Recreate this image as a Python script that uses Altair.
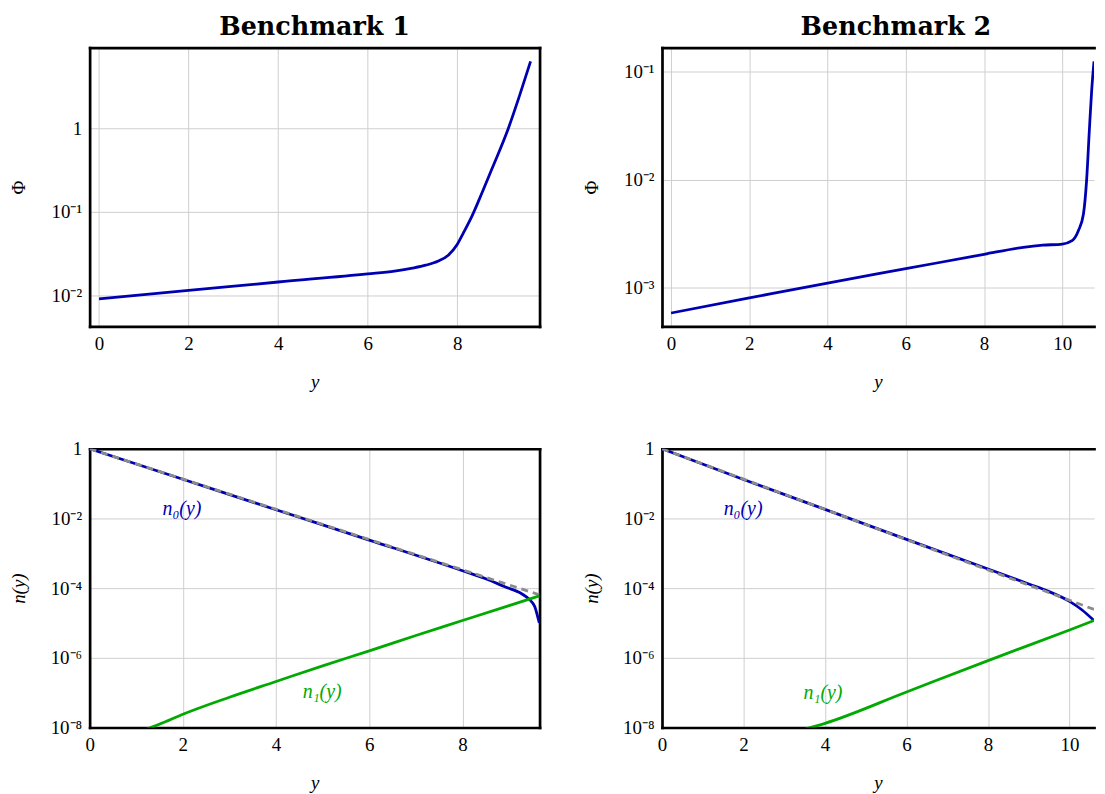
import altair as alt
import pandas as pd

# ---------------- data (log10 of the plotted quantity) ----------------
# Benchmark 1, upper panel: Phi(y)
phi1_y = [0, 2, 4, 6, 6.6, 7.0, 7.3, 7.58, 7.8, 8.0, 8.15, 8.33, 8.5, 8.77, 9.14, 9.4, 9.64]
phi1_log = [-2.044, -1.944, -1.842, -1.744, -1.71, -1.675, -1.64, -1.59, -1.52, -1.39,
            -1.24, -1.05, -0.84, -0.49, 0.0, 0.41, 0.81]
# Benchmark 2, upper panel: Phi(y)
phi2_y = [0, 2, 4, 6, 8, 9, 9.5, 10, 10.25, 10.41, 10.54, 10.62, 10.69, 10.75, 10.81]
phi2_log = [-3.231, -3.092, -2.954, -2.822, -2.689, -2.625, -2.605, -2.594, -2.563,
            -2.471, -2.317, -2.009, -1.548, -1.178, -0.908]
# Benchmark 1, lower panel: n0, n1 and the dashed reference
n0_1_y = [0, 2, 4, 6, 8, 8.5, 8.91, 9.27, 9.44, 9.55, 9.61, 9.65]
n0_1_log = [0, -0.875, -1.75, -2.62, -3.5, -3.73, -3.96, -4.16, -4.33, -4.53, -4.8, -5.0]
ref_1_y = [0, 9.65]
ref_1_log = [0, -4.19]
n1_1_y = [1.2, 1.6, 2, 3, 4, 5, 6, 7, 8, 9, 9.65]
n1_1_log = [-8.06, -7.85, -7.62, -7.13, -6.68, -6.23, -5.8, -5.36, -4.93, -4.5, -4.22]
# Benchmark 2, lower panel
n0_2_y = [0, 2, 4, 6, 8, 9, 9.5, 10, 10.3, 10.6]
n0_2_log = [0, -0.88, -1.74, -2.6, -3.45, -3.88, -4.1, -4.38, -4.62, -4.93]
ref_2_y = [0, 10.6]
ref_2_log = [0, -4.61]
n1_2_y = [3.5, 4, 6, 8, 10, 10.6]
n1_2_log = [-8.05, -7.88, -6.98, -6.08, -5.2, -4.93]

# labels inside the lower panels
lab_text = ["n\u2080(y)", "n\u2081(y)"]
lab1_x = [1.98, 4.99]
lab1_log = [-1.74, -6.99]
lab2_x = [1.99, 3.95]
lab2_log = [-1.74, -7.0]

titles = ["Benchmark 1", "Benchmark 2"]

# ---------------- styling ----------------
SERIF = "Liberation Serif"
BLUE = "#0000b3"
GREEN = "#00aa00"
GRAY = "#8c8c8c"
FW = 2.7
GRID = "#cfcfcf"
SUP = "['\u2070','\u00b9','\u00b2','\u00b3','\u2074','\u2075','\u2076','\u2077','\u2078','\u2079']"
YLAB = f"datum.value > 0.5 ? '1' : '10\u207b' + {SUP}[round(-log(datum.value)/LN10)]"


def df(xs, logs):
    return pd.DataFrame({"x": xs, "v": [10 ** e for e in logs]})


def labdf(xs, logs, texts):
    return pd.DataFrame({"x": xs, "v": [10 ** e for e in logs], "t": texts})


def panel(xdom, ylogdom, xvals, yvals, ytitle, yitalic, series, labels, width, title, right_frame,
          title_dx=0):
    height = 280
    xs = alt.Scale(domain=xdom, nice=False, zero=False)
    ys = alt.Scale(type="log", domain=[10 ** ylogdom[0], 10 ** ylogdom[1]], nice=False)
    xax = alt.Axis(values=xvals, format="d", title="y", grid=True, gridColor=GRID, gridWidth=1,
                   ticks=False, domain=True, domainColor="black", domainWidth=FW, domainCap="square",
                   labelFont=SERIF, labelFontSize=19, labelColor="black", labelPadding=8,
                   labelFlush=False,
                   titleFont=SERIF, titleFontSize=19, titleFontStyle="italic",
                   titleFontWeight="normal", titleColor="black", titlePadding=19)
    yax = alt.Axis(values=yvals, labelExpr=YLAB, title=ytitle, grid=True, gridColor=GRID, gridWidth=1,
                   ticks=False, domain=True, domainColor="black", domainWidth=FW, domainCap="square",
                   labelFont=SERIF, labelFontSize=19, labelColor="black", labelPadding=8,
                   labelFlush=False, minExtent=43, maxExtent=43,
                   titleFont=SERIF, titleFontSize=19, titleFontWeight="normal",
                   titleFontStyle="italic" if yitalic else "normal",
                   titleColor="black", titlePadding=18)
    topax = alt.Axis(orient="top", labels=False, ticks=False, grid=False, domain=True,
                     domainColor="black", domainWidth=FW, domainCap="square", title="")
    rightax = alt.Axis(orient="right", labels=False, ticks=False, grid=False, domain=True,
                       domainColor="black", domainWidth=FW, domainCap="square", title="")

    layers = []
    first = True
    for (d, color, dash) in series:
        kw = dict(color=color, strokeWidth=2.8, clip=True, interpolate="monotone")
        if dash:
            kw["strokeDash"] = [7, 5]
        if first:
            enc = dict(x=alt.X("x:Q", scale=xs, axis=xax), y=alt.Y("v:Q", scale=ys, axis=yax))
            first = False
        else:
            enc = dict(x=alt.X("x:Q", scale=xs, axis=None), y=alt.Y("v:Q", scale=ys, axis=None))
        layers.append(alt.Chart(d).mark_line(**kw).encode(**enc))

    for (d, color) in labels:
        layers.append(
            alt.Chart(d).mark_text(font=SERIF, fontSize=20, fontStyle="italic", color=color,
                                   align="center", baseline="middle")
            .encode(x=alt.X("x:Q", scale=xs, axis=None), y=alt.Y("v:Q", scale=ys, axis=None),
                    text="t:N")
        )

    frame_df = pd.DataFrame({"x": xdom, "v": [10 ** ylogdom[0], 10 ** ylogdom[1]]})
    frame = alt.Chart(frame_df).mark_point(opacity=0).encode(
        x=alt.X("x:Q", scale=xs, axis=topax),
        y=alt.Y("v:Q", scale=ys, axis=rightax if right_frame else None),
    )
    layers.append(frame)

    ch = alt.layer(*layers).resolve_axis(x="independent", y="independent")
    props = dict(width=width, height=height)
    if title:
        props["title"] = alt.TitleParams(title, font="DejaVu Serif", fontSize=25.5, fontWeight="bold",
                                         color="black", anchor="middle", offset=4.3, dx=title_dx)
    return ch.properties(**props)


W_L = 452
W_R = 434   # the whole chart must stay within the 1089px-wide page body

tl = panel([-0.21, 9.84], [-2.375, 0.975], [0, 2, 4, 6, 8], [0.01, 0.1, 1], "\u03a6", False,
           [(df(phi1_y, phi1_log), BLUE, False)], [], W_L, titles[0], True)
tr = panel([-0.232, 10.81], [-3.354, -0.781], [0, 2, 4, 6, 8, 10], [0.001, 0.01, 0.1], "\u03a6", False,
           [(df(phi2_y, phi2_log), BLUE, False)], [], W_R, titles[1], False, title_dx=18)

bl = panel([0, 9.654], [-8, 0], [0, 2, 4, 6, 8], [1e-8, 1e-6, 1e-4, 1e-2, 1], "n(y)", True,
           [(df(n0_1_y, n0_1_log), BLUE, False), (df(ref_1_y, ref_1_log), GRAY, True),
            (df(n1_1_y, n1_1_log), GREEN, False)],
           [(labdf(lab1_x[:1], lab1_log[:1], lab_text[:1]), BLUE),
            (labdf(lab1_x[1:], lab1_log[1:], lab_text[1:]), GREEN)],
           W_L, None, True)
br = panel([0, 10.6], [-8, 0], [0, 2, 4, 6, 8, 10], [1e-8, 1e-6, 1e-4, 1e-2, 1], "n(y)", True,
           [(df(n0_2_y, n0_2_log), BLUE, False), (df(ref_2_y, ref_2_log), GRAY, True),
            (df(n1_2_y, n1_2_log), GREEN, False)],
           [(labdf(lab2_x[:1], lab2_log[:1], lab_text[:1]), BLUE),
            (labdf(lab2_x[1:], lab2_log[1:], lab_text[1:]), GREEN)],
           W_R, None, False)

chart = (
    alt.vconcat(alt.hconcat(tl, tr, spacing=40), alt.hconcat(bl, br, spacing=40), spacing=49)
    .properties(padding={"left": 2, "top": 5, "right": 0, "bottom": 0}, background="white")
    .configure_view(strokeWidth=0)
)

chart.save("out.html", embed_options={"renderer": "svg", "actions": False})
